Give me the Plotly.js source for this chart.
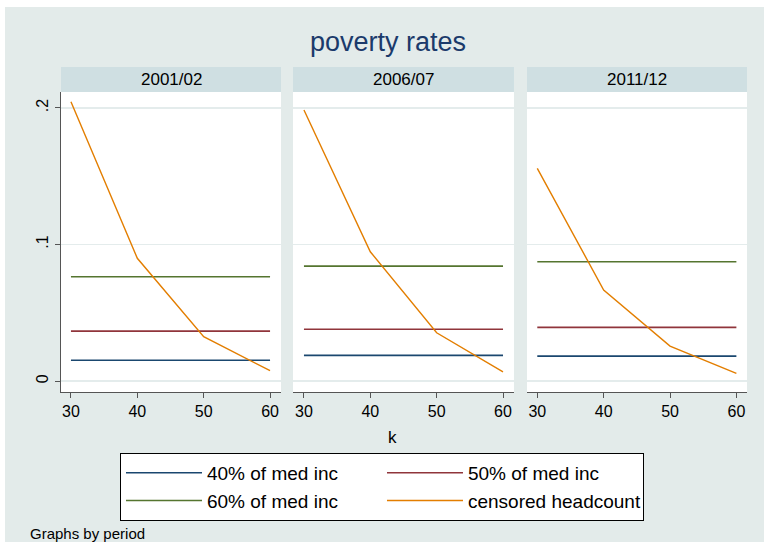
<!DOCTYPE html>
<html>
<head>
<meta charset="utf-8">
<script src="https://cdn.plot.ly/plotly-3.0.1.min.js"></script>
<style>
  html, body { margin: 0; padding: 0; background: #ffffff; }
  #chart { position: absolute; left: 5px; top: 7px; width: 759px; height: 535px; }
</style>
</head>
<body>
<div id="chart"></div>
<script>
/* poverty rates by period, Stata s2color look */

const K = [30, 40, 50, 60];
const PERIODS = ['2001/02', '2006/07', '2011/12'];

// flat poverty lines, one value per period
const POV40 = [0.0152, 0.0188, 0.0183];
const POV50 = [0.0366, 0.0379, 0.0393];
const POV60 = [0.0764, 0.0842, 0.0874];

// censored headcount at k = 30, 40, 50, 60
const CENSORED = [
  [0.2046, 0.0899, 0.0325, 0.0076],
  [0.1985, 0.0947, 0.0354, 0.0068],
  [0.1558, 0.0667, 0.0256, 0.0056],
];

const SERIES = [
  { name: '40% of med inc', color: '#1a476f', width: 1.6 },
  { name: '50% of med inc', color: '#90353b', width: 1.6 },
  { name: '60% of med inc', color: '#55752f', width: 1.6 },
  { name: 'censored headcount', color: '#e37e00', width: 1.4 },
];

const FONT = 'Liberation Sans, Arial, Helvetica, sans-serif';
const BG = '#e3ebea';
const STRIP = '#cfdfe2';
const GRID = '#e4ecec';
const AXIS = '#555555';

const DOMAINS = [[0, 0.3207], [0.3382, 0.6603], [0.6793, 1]];
const XRANGES = [[28.5, 61.65], [28.35, 61.65], [28.45, 61.6]];

const traces = [];
PERIODS.forEach((p, i) => {
  const xa = i === 0 ? 'x' : 'x' + (i + 1);
  const ya = i === 0 ? 'y' : 'y' + (i + 1);
  const ys = [
    K.map(() => POV40[i]),
    K.map(() => POV50[i]),
    K.map(() => POV60[i]),
    CENSORED[i],
  ];
  SERIES.forEach((s, j) => {
    traces.push({
      type: 'scatter', mode: 'lines', x: K, y: ys[j], xaxis: xa, yaxis: ya,
      name: s.name, legendgroup: s.name, showlegend: i === 0,
      line: { color: s.color, width: s.width },
      hoverinfo: 'x+y',
    });
  });
});

const yBase = {
  range: [-0.008, 0.2117], tickvals: [0, 0.1, 0.2], ticktext: ['0', '.1', '.2'],
  showgrid: true, gridcolor: GRID, gridwidth: 1.5, zeroline: false,
};

const layout = {
  width: 759, height: 535,
  paper_bgcolor: BG, plot_bgcolor: '#ffffff',
  font: { family: FONT, color: '#000000', size: 16 },
  margin: { l: 56, r: 17, t: 85, b: 150 },
  title: {
    text: 'poverty rates', xref: 'container', x: 0.5046, xanchor: 'center',
    yref: 'container', y: 0.9346, yanchor: 'middle',
    font: { size: 27, color: '#1b3a6b', family: FONT },
  },
  showlegend: true,
  legend: {
    orientation: 'h', xref: 'container', yref: 'container',
    x: 0.1515, xanchor: 'left', y: 0.1665, yanchor: 'top',
    bgcolor: '#ffffff', bordercolor: '#000000', borderwidth: 1,
    font: { size: 19, family: FONT }, itemwidth: 76,
    entrywidth: 170, entrywidthmode: 'pixels', traceorder: 'normal',
    itemclick: false, itemdoubleclick: false,
  },
  shapes: [],
  annotations: [],
};

PERIODS.forEach((p, i) => {
  const sfx = i === 0 ? '' : String(i + 1);
  layout['xaxis' + sfx] = {
    domain: DOMAINS[i], anchor: 'y' + sfx, range: XRANGES[i],
    tickvals: K, ticks: 'outside', ticklen: 5, tickcolor: AXIS, tickwidth: 1,
    showline: true, linecolor: AXIS, linewidth: 1.2,
    showgrid: false, zeroline: false, tickfont: { size: 16 },
  };
  layout['yaxis' + sfx] = Object.assign({}, yBase, i === 0 ? {
    anchor: 'x', ticks: 'outside', ticklen: 5, tickcolor: AXIS, tickwidth: 1,
    showline: true, linecolor: AXIS, linewidth: 1.2,
    tickangle: -90, tickfont: { size: 16 },
  } : {
    anchor: 'x' + sfx, matches: 'y', showticklabels: false, ticks: '', showline: false,
  });

  // by-strip header
  layout.shapes.push({
    type: 'rect', xref: 'paper', yref: 'paper', layer: 'below',
    x0: DOMAINS[i][0], x1: DOMAINS[i][1], y0: 1, y1: 1.0833,
    fillcolor: STRIP, line: { width: 0 },
  });
  layout.annotations.push({
    text: p, xref: 'paper', yref: 'paper', showarrow: false,
    x: (DOMAINS[i][0] + DOMAINS[i][1]) / 2, y: 1.0417,
    xanchor: 'center', yanchor: 'middle', font: { size: 17 },
  });
});

layout.annotations.push({
  text: 'k', xref: 'paper', yref: 'paper', showarrow: false,
  x: 0.4833, y: -0.15, xanchor: 'center', yanchor: 'middle', font: { size: 17 },
});
layout.annotations.push({
  text: 'Graphs by period', xref: 'paper', yref: 'paper', showarrow: false,
  x: -0.0481, y: -0.47, xanchor: 'left', yanchor: 'middle', font: { size: 15 },
});

Plotly.newPlot('chart', traces, layout, { displayModeBar: false, staticPlot: true });
</script>
</body>
</html>
